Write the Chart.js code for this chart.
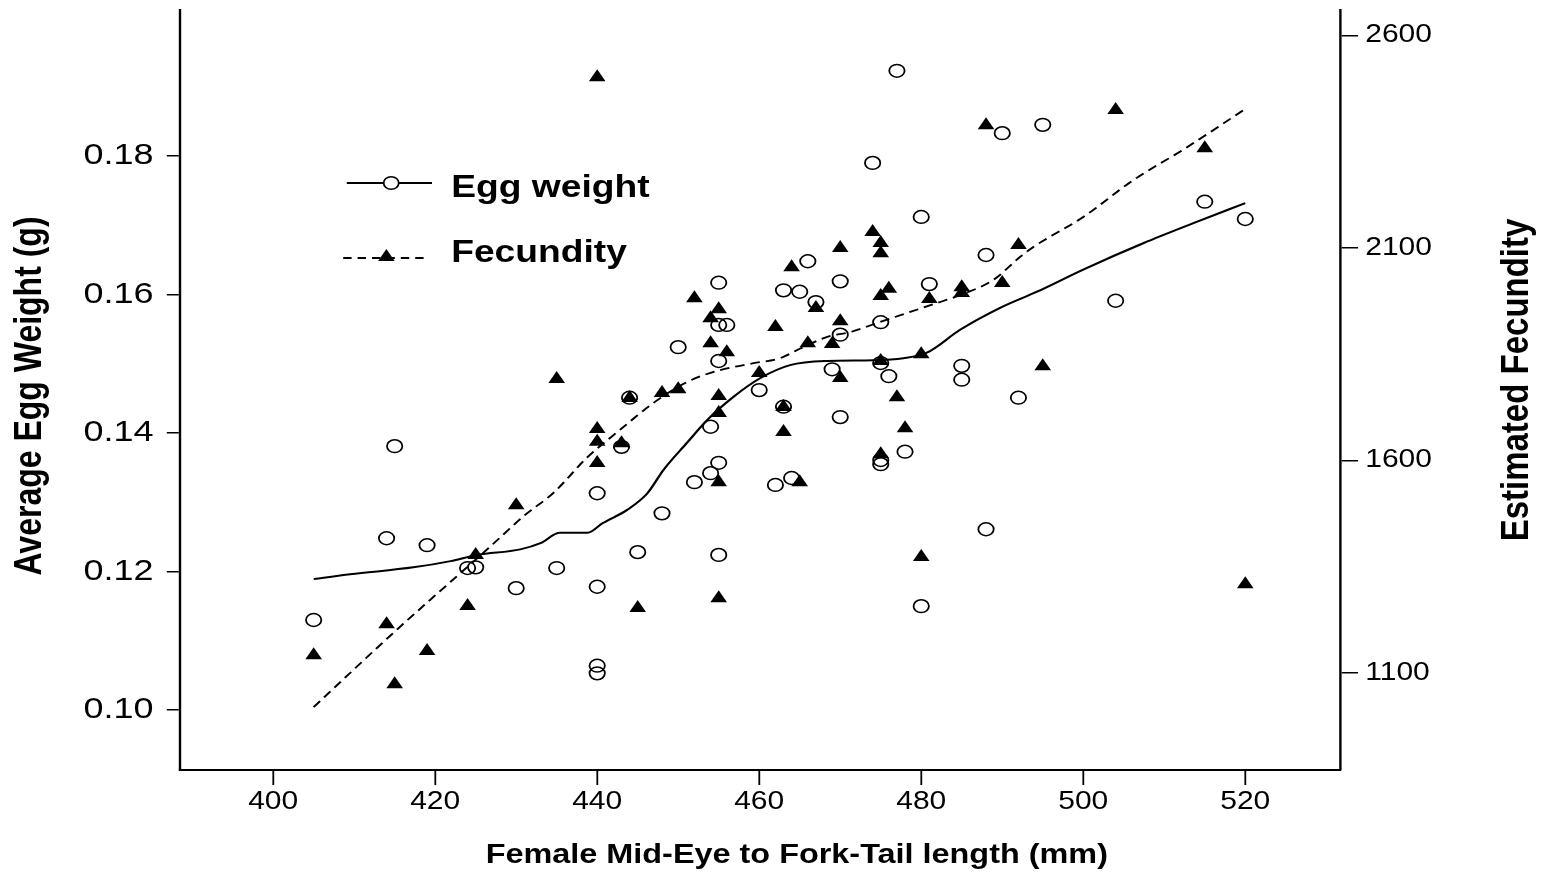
<!DOCTYPE html>
<html>
<head>
<meta charset="utf-8">
<script src="https://cdn.jsdelivr.net/npm/chart.js@4.4.1/dist/chart.umd.min.js"></script>
<style>
  html, body { margin: 0; padding: 0; background: #fff; }
  canvas { display: block; }
</style>
</head>
<body>
<canvas id="chart" width="1285" height="893"></canvas>
<script>
// Egg weight vs. length (open circles, left axis)
const eggLength = [405, 414, 415, 419, 424, 425, 430, 435, 440, 440, 440, 440, 443, 444, 445, 448, 450, 452, 454, 454,
  455, 455, 455, 455, 455, 456, 460, 462, 463, 463, 464, 465, 466, 467, 469, 470, 470, 470, 474, 475,
  475, 475, 475, 476, 477, 478, 480, 480, 481, 485, 485, 488, 488, 490, 492, 495, 504, 515, 520];
const eggWeight = [0.1130, 0.1248, 0.1381, 0.1238, 0.1205, 0.1206, 0.1176, 0.1205, 0.1313, 0.1178, 0.1064, 0.1053, 0.1380, 0.1451, 0.1228, 0.1284, 0.1524, 0.1329, 0.1409, 0.1342,
  0.1617, 0.1556, 0.1504, 0.1357, 0.1224, 0.1556, 0.1462, 0.1325, 0.1606, 0.1438, 0.1335, 0.1604, 0.1648, 0.1589, 0.1492, 0.1619, 0.1542, 0.1423, 0.1790, 0.1560,
  0.1501, 0.1361, 0.1355, 0.1482, 0.1923, 0.1373, 0.1712, 0.1150, 0.1615, 0.1497, 0.1477, 0.1657, 0.1261, 0.1833, 0.1451, 0.1845, 0.1591, 0.1734, 0.1709];

// Fecundity vs. length (filled triangles, right axis)
const fecLength = [405, 414, 415, 419, 424, 425, 430, 435, 440, 440, 440, 440, 443, 444, 445, 448, 450, 452, 454, 454,
  455, 455, 455, 455, 455, 456, 460, 462, 463, 463, 464, 465, 466, 467, 469, 470, 470, 470, 474, 475,
  475, 475, 475, 475, 476, 477, 478, 480, 480, 481, 485, 485, 488, 490, 492, 495, 504, 515, 520];
const fecundity = [1142, 1215, 1074, 1152, 1258, 1378, 1495, 1792, 2502, 1674, 1644, 1594, 1641, 1747, 1253, 1759, 1768, 1982, 1876, 1935,
  1956, 1752, 1712, 1549, 1276, 1855, 1806, 1914, 1726, 1667, 2055, 1549, 1876, 1959, 1874, 2100, 1928, 1794, 2138, 2112,
  2088, 1987, 1834, 1615, 2004, 1749, 1676, 1850, 1373, 1980, 2008, 1994, 2389, 2018, 2107, 1822, 2425, 2335, 1309];

// Smoothed curves
const eggSmoothX = [405, 409.5, 417.3, 421.9, 425.2, 430.5, 433, 435.4, 438.8, 440.7, 443.7, 446.2, 448.2, 451.1, 453.6,
  456.8, 460.1, 463.8, 468.4, 474.1, 477.8, 480.7, 484.8, 489.8, 494.3, 500, 507.4, 513.6, 520];
const eggSmooth = [0.1189, 0.1196, 0.1206, 0.1215, 0.1224, 0.1232, 0.1241, 0.1256, 0.1256, 0.1270, 0.1289, 0.1313, 0.1347, 0.1386, 0.1419,
  0.1452, 0.1479, 0.1498, 0.1504, 0.1505, 0.1508, 0.1516, 0.1549, 0.1581, 0.1604, 0.1636, 0.1674, 0.1703, 0.1732];
const fecSmoothX = [405, 414.8, 423.1, 425.9, 431.1, 434.6, 438.8, 442.8, 446.9, 451.1, 455.2, 459.3, 462.6, 464.7, 468.4,
  471.2, 474.9, 482, 484.8, 488.9, 492.2, 493.8, 500, 506.2, 512.3, 520];
const fecSmooth = [1020, 1194, 1335, 1382, 1472, 1524, 1608, 1672, 1735, 1785, 1813, 1829, 1841, 1860, 1891,
  1902, 1926, 1971, 1989, 2025, 2079, 2102, 2173, 2260, 2331, 2427];

// Tick labels
const xTicks = [400, 420, 440, 460, 480, 500, 520];
const eggTicks = [0.10, 0.12, 0.14, 0.16, 0.18];
const fecTicks = [1100, 1600, 2100, 2600];

const FONT = "'Liberation Sans', Arial, sans-serif";
const S = 1.2; // horizontal stretch of the original figure
const W = 1285, H = 893;

const pts = (xs, ys) => xs.map((x, i) => ({ x: x, y: ys[i] }));
const fixTicks = list => scale => { scale.ticks = list.map(v => ({ value: v })); };
const noPad = s => { s.paddingTop = 0; s.paddingBottom = 0; s.paddingLeft = 0; s.paddingRight = 0; };

// the original picture is stretched sideways: draw everything stretched
const stretch = {
    id: 'stretch',
    beforeDraw(chart) { chart.ctx.setTransform(S, 0, 0, 1, 0, 0); }
};

// axis titles and the legend box inside the plot
const decorations = {
    id: 'decorations',
    afterDraw(chart) {
        const ctx = chart.ctx;
        ctx.save();
        ctx.fillStyle = '#000';
        ctx.strokeStyle = '#000';
        ctx.textAlign = 'center';
        ctx.textBaseline = 'middle';

        ctx.font = 'bold 27px ' + FONT;
        ctx.fillText('Female Mid-Eye to Fork-Tail length (mm)', 664, 856);

        ctx.save();
        ctx.translate(25, 396);
        ctx.rotate(-Math.PI / 2);
        ctx.font = 'bold 32px ' + FONT;
        ctx.fillText('Average Egg Weight (g)', 0, 0);
        ctx.restore();

        ctx.save();
        ctx.translate(1264, 380);
        ctx.rotate(-Math.PI / 2);
        ctx.font = 'bold 33px ' + FONT;
        ctx.fillText('Estimated Fecundity', 0, 0);
        ctx.restore();

        // legend
        ctx.lineWidth = 2;
        ctx.beginPath(); ctx.moveTo(289, 183); ctx.lineTo(360, 183); ctx.stroke();
        ctx.beginPath(); ctx.arc(326, 183, 6.3, 0, Math.PI * 2);
        ctx.fillStyle = '#fff'; ctx.fill();
        ctx.lineWidth = 1.5; ctx.stroke();

        ctx.lineWidth = 1.8;
        ctx.setLineDash([7, 5]);
        ctx.beginPath(); ctx.moveTo(286, 258); ctx.lineTo(358, 258); ctx.stroke();
        ctx.setLineDash([]);
        const r = 8, tx = 322, ty = 257;
        ctx.beginPath();
        ctx.moveTo(tx, ty - r);
        ctx.lineTo(tx + r * Math.sin(2 * Math.PI / 3), ty + r / 2);
        ctx.lineTo(tx - r * Math.sin(2 * Math.PI / 3), ty + r / 2);
        ctx.closePath();
        ctx.fillStyle = '#000'; ctx.fill();

        ctx.font = 'bold 31px ' + FONT;
        ctx.textAlign = 'left';
        ctx.textBaseline = 'alphabetic';
        ctx.fillText('Egg weight', 376, 197);
        ctx.fillText('Fecundity', 376, 262);
        ctx.restore();
    }
};

const axisBase = {
    grid: { display: true, drawOnChartArea: false, drawTicks: true, color: '#000', lineWidth: 1.5 },
    border: { display: true, color: '#000', width: 2 },
    ticks: { color: '#000', font: { family: FONT, size: 25 }, autoSkip: false, maxRotation: 0 }
};

const canvas = document.getElementById('chart');
const chart = new Chart(canvas, {
    type: 'scatter',
    data: {
        datasets: [{
            label: 'Egg weight',
            data: pts(eggLength, eggWeight),
            yAxisID: 'y',
            pointStyle: 'circle',
            pointRadius: 6.4,
            backgroundColor: 'rgba(0,0,0,0)',
            borderColor: '#000',
            borderWidth: 1.5
        }, {
            label: 'Fecundity',
            data: pts(fecLength, fecundity),
            yAxisID: 'y2',
            pointStyle: 'triangle',
            pointRadius: 8,
            backgroundColor: '#000',
            borderColor: '#000',
            borderWidth: 0
        }, {
            label: 'Egg weight smooth',
            data: pts(eggSmoothX, eggSmooth),
            yAxisID: 'y',
            showLine: true,
            pointRadius: 0,
            borderColor: '#000',
            borderWidth: 2,
            cubicInterpolationMode: 'monotone'
        }, {
            label: 'Fecundity smooth',
            data: pts(fecSmoothX, fecSmooth),
            yAxisID: 'y2',
            showLine: true,
            pointRadius: 0,
            borderColor: '#000',
            borderWidth: 1.8,
            borderDash: [8, 5],
            cubicInterpolationMode: 'monotone'
        }]
    },
    options: {
        responsive: false,
        animation: false,
        events: [],
        layout: { padding: { top: 10, left: 0, right: 0, bottom: 0 } },
        plugins: { legend: { display: false }, tooltip: { enabled: false } },
        scales: {
            x: {
                ...axisBase,
                type: 'linear',
                position: 'bottom',
                min: 388.5,
                max: 531.7,
                afterBuildTicks: fixTicks(xTicks),
                afterFit: s => { s.height = 123; noPad(s); },
                grid: { ...axisBase.grid, tickLength: 15 },
                ticks: { ...axisBase.ticks, padding: 2, callback: v => String(v) }
            },
            y: {
                ...axisBase,
                type: 'linear',
                position: 'left',
                min: 0.09134,
                max: 0.20108,
                afterBuildTicks: fixTicks(eggTicks),
                afterFit: s => { s.width = 150; noPad(s); },
                grid: { ...axisBase.grid, tickLength: 11 },
                ticks: { ...axisBase.ticks, font: { family: FONT, size: 30 }, padding: 11, callback: v => v.toFixed(2) }
            },
            y2: {
                ...axisBase,
                type: 'linear',
                position: 'right',
                min: 872,
                max: 2660,
                afterBuildTicks: fixTicks(fecTicks),
                afterFit: s => { s.width = W - 1116.7; noPad(s); },
                grid: { ...axisBase.grid, tickLength: 15 },
                ticks: { ...axisBase.ticks, padding: 6, callback: v => String(v) }
            }
        }
    },
    plugins: [stretch, decorations]
});

// widen the drawing buffer to the full page and redraw stretched
canvas.width = Math.round(W * S);
canvas.style.width = Math.round(W * S) + 'px';
canvas.style.height = H + 'px';
chart.draw();
</script>
</body>
</html>
